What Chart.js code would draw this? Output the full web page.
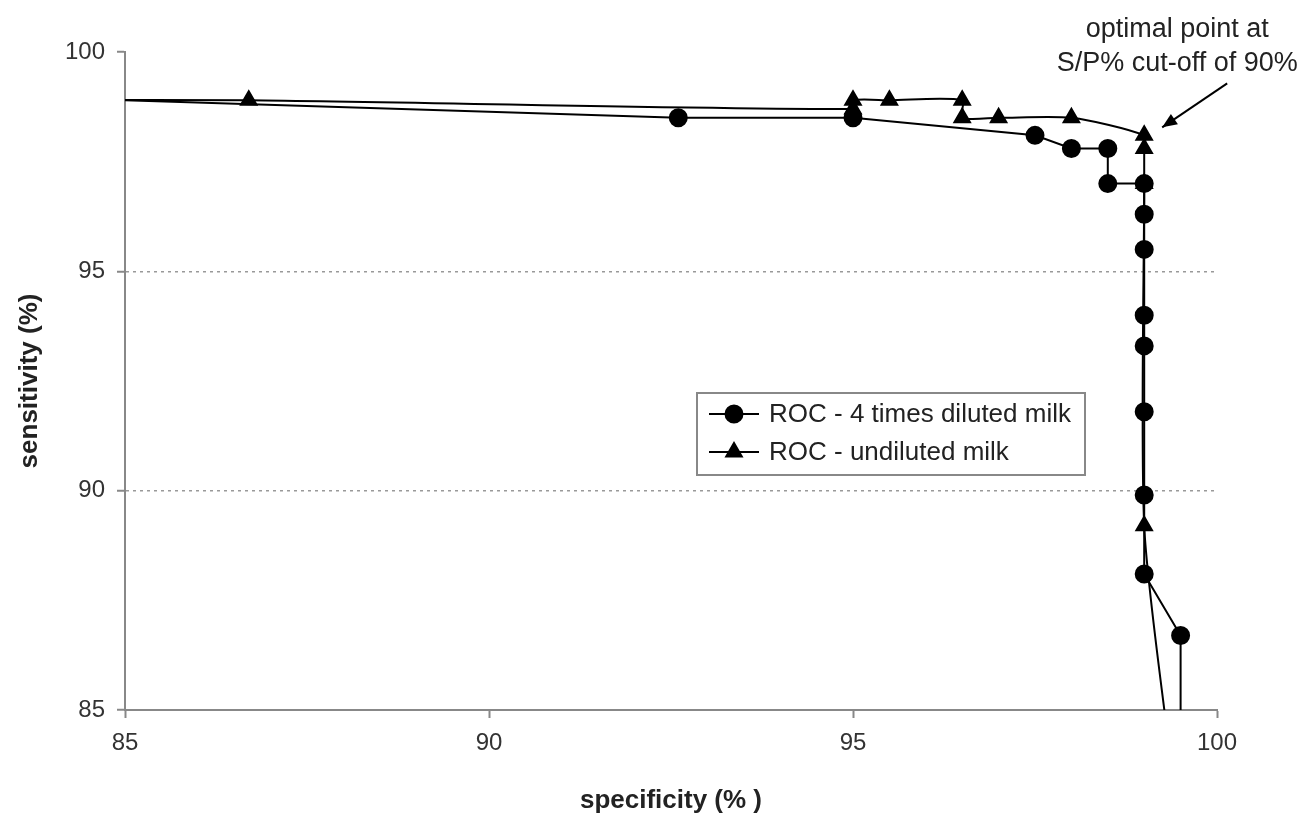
<!DOCTYPE html>
<html>
<head>
<meta charset="utf-8">
<script src="https://cdn.jsdelivr.net/npm/chart.js@4/dist/chart.umd.min.js"></script>
<style>
    body { margin: 0; background: #fff; }
    #wrap { width: 1308px; height: 825px; }
</style>
</head>
<body>
<div id="wrap"><canvas id="roc"></canvas></div>
<script>
// data (specificity %, sensitivity %)
// first / last points sit outside the axes so the lines run off the edges like in the original
const dilutedSpec = [84, 92.6, 95.0, 97.5, 98.0, 98.5, 98.5, 99.0, 99.0, 99.0, 99.0, 99.0, 99.0, 99.0, 99.0, 99.5, 99.5]
const dilutedSens = [98.95, 98.5, 98.5, 98.1, 97.8, 97.8, 97.0, 97.0, 96.3, 95.5, 94.0, 93.3, 91.8, 89.9, 88.1, 86.7, 84]
const undilutedSpec = [84, 86.7, 95.0, 95.0, 95.5, 96.5, 96.5, 97.0, 98.0, 99.0, 99.0, 99.0, 99.0, 99.35]
const undilutedSens = [98.9, 98.9, 98.7, 98.9, 98.9, 98.9, 98.5, 98.5, 98.5, 98.1, 97.8, 97.0, 89.2, 84]
const xTicks = [85, 90, 95, 100]
const yTicks = [85, 90, 95, 100]
const seriesNames = ["ROC - 4 times diluted milk", "ROC - undiluted milk"]
const optimalPoint = [99.0, 98.1]
const optimalText = ["optimal point at", "S/P% cut-off of 90%"]

const FONT = "'Liberation Sans', Arial, sans-serif"
const toPoints = (xs, ys) => xs.map((x, i) => ({x: x, y: ys[i]}))

// legend box inside the plot + arrow note
const notesPlugin = {
    id: "notes",
    afterDraw(chart) {
        const ctx = chart.ctx
        const xs = chart.scales.x, ys = chart.scales.y
        ctx.save()

        // legend
        const lx = 697, ly = 393, lw = 388, lh = 82
        ctx.fillStyle = "#fff"
        ctx.fillRect(lx, ly, lw, lh)
        ctx.strokeStyle = "#888"
        ctx.lineWidth = 2
        ctx.strokeRect(lx, ly, lw, lh)
        const styles = ["circle", "triangle"]
        const radii = [8.5, 9]
        seriesNames.forEach((name, i) => {
            const cy = ly + 21 + i * 38
            ctx.strokeStyle = "#000"
            ctx.lineWidth = 2
            ctx.beginPath()
            ctx.moveTo(lx + 12, cy)
            ctx.lineTo(lx + 62, cy)
            ctx.stroke()
            ctx.fillStyle = "#000"
            Chart.helpers.drawPoint(ctx, {pointStyle: styles[i], radius: radii[i], borderWidth: 1}, lx + 37, cy)
            ctx.fillStyle = "#222"
            ctx.font = `26px ${FONT}`
            ctx.textBaseline = "middle"
            ctx.textAlign = "left"
            ctx.fillText(name, lx + 72, cy + 1)
        })

        // arrow pointing at the optimal point
        const px = xs.getPixelForValue(optimalPoint[0])
        const py = ys.getPixelForValue(optimalPoint[1])
        const hx = px + 18, hy = py - 8
        const tx = px + 83, ty = py - 52
        ctx.strokeStyle = "#000"
        ctx.lineWidth = 2
        ctx.beginPath()
        ctx.moveTo(tx, ty)
        ctx.lineTo(hx, hy)
        ctx.stroke()
        const ang = Math.atan2(hy - ty, hx - tx)
        ctx.fillStyle = "#000"
        ctx.beginPath()
        ctx.moveTo(hx, hy)
        ctx.lineTo(hx - 16 * Math.cos(ang - 0.4), hy - 16 * Math.sin(ang - 0.4))
        ctx.lineTo(hx - 16 * Math.cos(ang + 0.4), hy - 16 * Math.sin(ang + 0.4))
        ctx.closePath()
        ctx.fill()

        ctx.fillStyle = "#222"
        ctx.font = `27px ${FONT}`
        ctx.textAlign = "center"
        ctx.textBaseline = "middle"
        optimalText.forEach((t, i) => ctx.fillText(t, px + 33, 30 + i * 34))
        ctx.restore()
    }
}

new Chart(document.getElementById("roc"), {
    type: "scatter",
    data: {
        datasets: [
            {
                label: seriesNames[0],
                data: toPoints(dilutedSpec, dilutedSens),
                showLine: true,
                borderColor: "#000",
                borderWidth: 2,
                backgroundColor: "#000",
                pointStyle: "circle",
                pointRadius: 8.5,
                pointHoverRadius: 8.5,
                tension: 0
            },
            {
                label: seriesNames[1],
                data: toPoints(undilutedSpec, undilutedSens),
                showLine: true,
                borderColor: "#000",
                borderWidth: 2,
                backgroundColor: "#000",
                pointStyle: "triangle",
                pointRadius: 9,
                pointHoverRadius: 9,
                tension: 0.25
            }
        ]
    },
    options: {
        responsive: true,
        maintainAspectRatio: false,
        animation: false,
        layout: { padding: { top: 52, right: 91, left: 0, bottom: 0 } },
        scales: {
            x: {
                type: "linear",
                min: 85,
                max: 100,
                afterBuildTicks: s => { s.ticks = xTicks.map(v => ({value: v})) },
                afterFit: s => { s.height = 115 },
                ticks: { color: "#333", font: { size: 24, family: FONT }, padding: 11 },
                grid: { drawOnChartArea: false, tickLength: 8, tickColor: "#888", tickWidth: 2 },
                border: { color: "#888", width: 2 },
                title: {
                    display: true,
                    text: "specificity (% )",
                    color: "#222",
                    font: { size: 26, weight: "bold", family: FONT },
                    padding: { top: 0, bottom: 9 }
                }
            },
            y: {
                type: "linear",
                min: 85,
                max: 100,
                afterBuildTicks: s => { s.ticks = yTicks.map(v => ({value: v})) },
                afterFit: s => { s.width = 125 },
                ticks: { color: "#333", font: { size: 24, family: FONT }, padding: 12 },
                grid: {
                    color: ctx => (ctx.tick && (ctx.tick.value === 90 || ctx.tick.value === 95)) ? "#999" : "rgba(0,0,0,0)",
                    lineWidth: 1.5,
                    tickLength: 8,
                    tickColor: "#888",
                    tickWidth: 2
                },
                border: { color: "#888", width: 2, dash: [3, 4] },
                title: {
                    display: true,
                    text: "sensitivity (%)",
                    color: "#222",
                    font: { size: 26, weight: "bold", family: FONT },
                    padding: { top: 14, bottom: 0 }
                }
            }
        },
        plugins: {
            legend: { display: false },
            tooltip: { enabled: false }
        }
    },
    plugins: [notesPlugin]
})
</script>
</body>
</html>
